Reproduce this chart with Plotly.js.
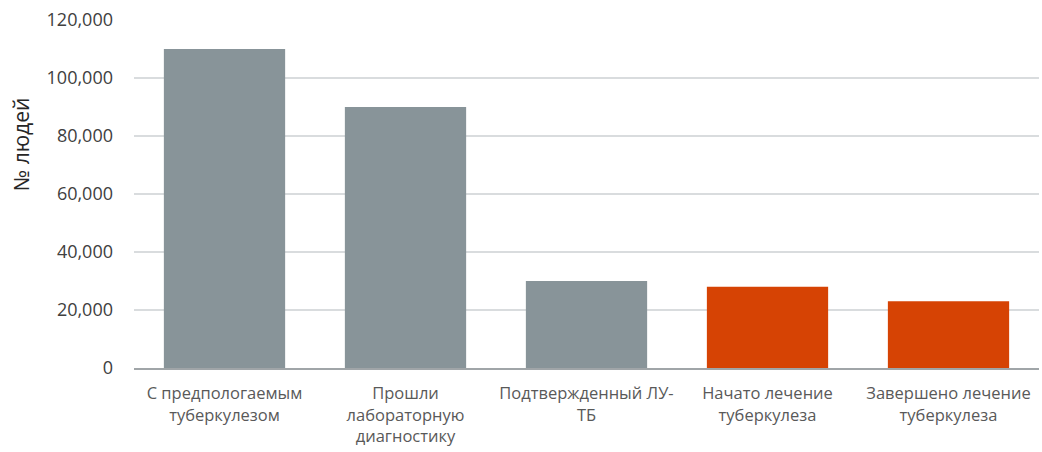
<!DOCTYPE html>
<html>
<head>
<meta charset="utf-8">
<script src="https://cdn.plot.ly/plotly-3.0.1.min.js"></script>
<style>html,body{margin:0;padding:0;background:#fff;}#chart{width:1042px;height:452px;}</style>
</head>
<body>
<div id="chart"></div>
<script>
var categories = [
  "С предпологаемым<br>туберкулезом",
  "Прошли<br>лабораторную<br>диагностику",
  "Подтвержденный ЛУ-<br>ТБ",
  "Начато лечение<br>туберкулеза",
  "Завершено лечение<br>туберкулеза"
];
var values = [110000, 90000, 30000, 28000, 23000];
var barColors = ["#889499", "#889499", "#889499", "#D64304", "#D64304"];
var yTitle = "№ людей";

var fontFam = "Open Sans, Noto Sans, sans-serif";
var trace = {
  type: "bar",
  x: categories,
  y: values,
  marker: {color: barColors},
  hoverinfo: "none"
};
var layout = {
  width: 1042, height: 452,
  margin: {l: 134, r: 3, t: 20, b: 84},
  paper_bgcolor: "#fff", plot_bgcolor: "#fff",
  bargap: 0.33,
  showlegend: false,
  font: {family: fontFam, color: "#595959", size: 14},
  xaxis: {
    showline: true, linecolor: "#A0A5A8", linewidth: 1.5,
    showgrid: false, ticks: "", tickfont: {size: 16.5, color: "#595959", family: fontFam},
    ticklabelstandoff: 10,
    automargin: false
  },
  yaxis: {
    range: [0, 120000], dtick: 20000, tickformat: ",",
    showgrid: true, gridcolor: "#D9DCDE", gridwidth: 1.5,
    zeroline: false, showline: false, ticks: "",
    ticklabelstandoff: 20,
    tickfont: {size: 18, color: "#404040", family: fontFam},
    automargin: false
  },
  annotations: [{
    text: yTitle, xref: "paper", yref: "paper",
    x: -0.1249, y: 0.643, xanchor: "center", yanchor: "middle",
    textangle: -90, showarrow: false,
    font: {size: 21, color: "#262626", family: fontFam}
  }]
};
Plotly.newPlot("chart", [trace], layout, {displayModeBar: false, staticPlot: true});
</script>
</body>
</html>
